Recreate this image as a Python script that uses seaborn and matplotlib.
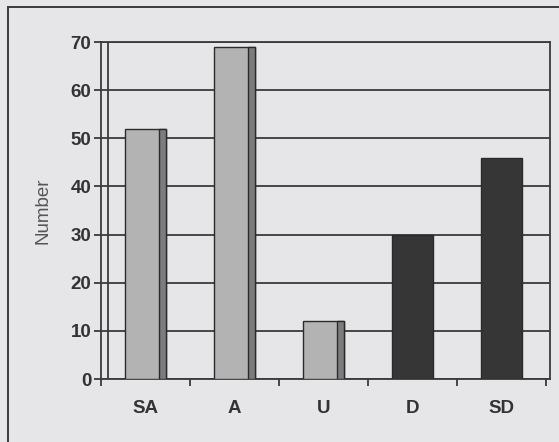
import matplotlib
matplotlib.use("Agg")
import matplotlib.pyplot as plt
from matplotlib.patches import Rectangle
import seaborn as sns
import pandas as pd

# Response counts per answer
categories = ["SA", "A", "U", "D", "SD"]
counts = [52, 69, 12, 30, 46]
shades = ["light", "light", "light", "dark", "dark"]
y_ticks = [0, 10, 20, 30, 40, 50, 60, 70]

df = pd.DataFrame({"answer": categories, "number": counts, "shade": shades})

sns.set_theme(style="white")
plt.rcParams["font.family"] = ["Liberation Sans", "DejaVu Sans"]

paper = "#e6e6e8"
ink = "#333333"
fig = plt.figure(figsize=(5.59, 4.42), dpi=100, facecolor=paper)
ax = fig.add_axes([101 / 559, 63 / 442, 449 / 559, 337 / 442])
ax.set_facecolor(paper)

palette = {"light": "#b3b3b3", "dark": "#363636"}
sns.barplot(data=df, x="answer", y="number", hue="shade", palette=palette,
            order=categories, width=0.46, dodge=False, legend=False,
            edgecolor="#2a2a2a", linewidth=1.0, saturation=1, ax=ax, zorder=3)

# darker side strip on the light bars
for patch in ax.patches:
    fc = patch.get_facecolor()
    if fc[0] > 0.5 and patch.get_height() > 0:
        w = patch.get_width() * 0.17
        ax.add_patch(Rectangle((patch.get_x() + patch.get_width() - w, 0), w,
                               patch.get_height(), facecolor="#7c7c7c",
                               edgecolor="#2a2a2a", linewidth=1.0, zorder=4))

ax.set_xlim(-0.5, 4.545)
ax.set_ylim(0, 70)
ax.set_yticks(y_ticks)
ax.yaxis.grid(True, color="#3a3a3a", linewidth=1.3, zorder=0)
ax.set_axisbelow(True)
ax.axvline(-0.421, color="#3a3a3a", linewidth=1.3, zorder=2)

for side in ["left", "right", "top", "bottom"]:
    ax.spines[side].set_color("#3a3a3a")
    ax.spines[side].set_linewidth(1.3)

ax.tick_params(axis="y", which="major", direction="out", length=5, width=1.3,
               color="#3a3a3a", pad=2, labelsize=13.5, labelcolor=ink, left=True)
ax.set_xticks([i + 0.5 for i in range(-1, 5)], minor=True)
ax.tick_params(axis="x", which="minor", direction="out", length=5, width=1.3,
               color="#3a3a3a", bottom=True)
ax.tick_params(axis="x", which="major", length=0, pad=15, labelsize=13.5,
               labelcolor=ink)
for lab in ax.get_xticklabels() + ax.get_yticklabels():
    lab.set_fontweight("bold")

ax.set_xlabel("")
ax.set_ylabel("Number", fontsize=13.5, color="#555555", labelpad=14)

# outer chart frame
fig.add_artist(Rectangle((8 / 559, -0.1), 1.2, (442 - 7) / 442 + 0.1,
                         transform=fig.transFigure, fill=False,
                         edgecolor="#3a3a3a", linewidth=1.4))

fig.savefig("out.png", dpi=100, facecolor=paper)
